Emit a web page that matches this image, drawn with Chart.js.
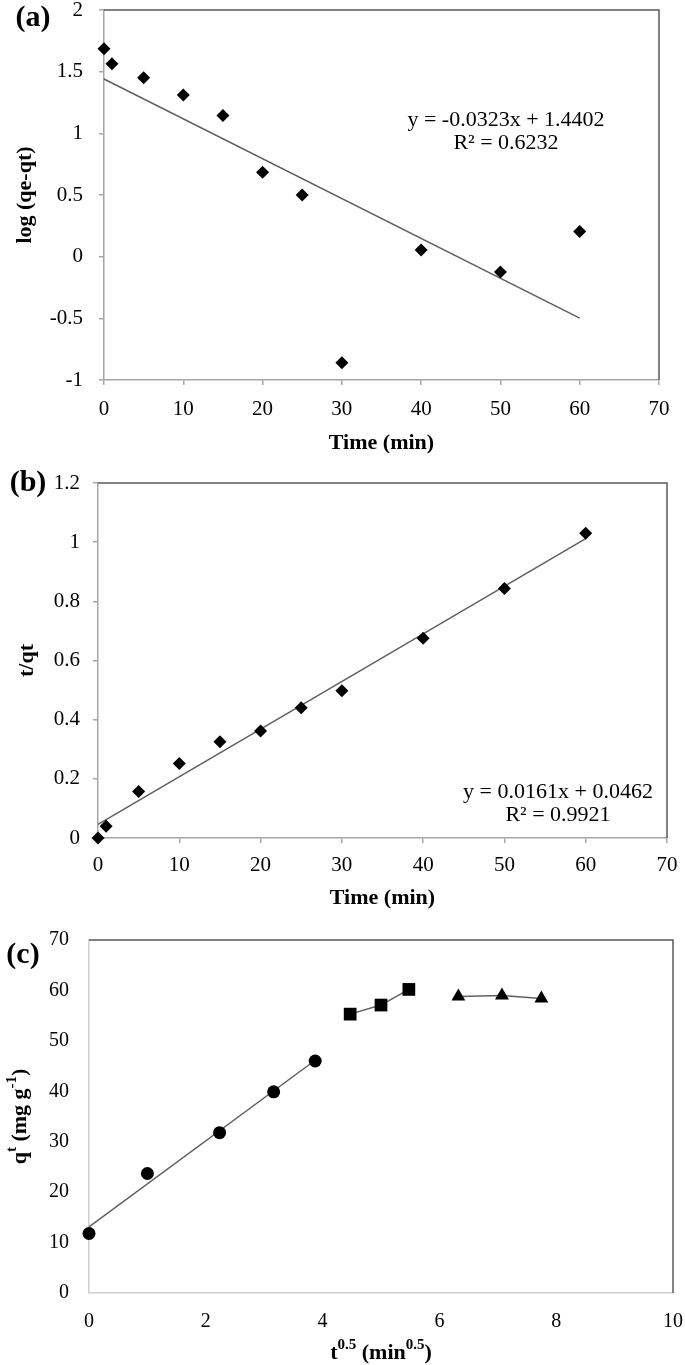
<!DOCTYPE html>
<html>
<head>
<meta charset="utf-8">
<script src="https://cdn.jsdelivr.net/npm/chart.js@4.4.0/dist/chart.umd.min.js"></script>
<style>
  html, body { margin: 0; padding: 0; background: #fff; }
  #wrap { position: relative; width: 685px; height: 1365px; }
  canvas { position: absolute; left: 0; }
</style>
</head>
<body>
<div id="wrap">
  <canvas id="chartA" width="685" height="460" style="top:0"></canvas>
  <canvas id="chartB" width="685" height="455" style="top:460px"></canvas>
  <canvas id="chartC" width="685" height="450" style="top:915px"></canvas>
</div>
<script>
// (a) pseudo-first-order, (b) pseudo-second-order, (c) intraparticle diffusion
const timeMin = [0, 1, 5, 10, 15, 20, 25, 30, 40, 50, 60];
const logQeQt = [1.685, 1.565, 1.45, 1.31, 1.145, 0.685, 0.5, -0.86, 0.055, -0.125, 0.205];
const tOverQt = [0, 0.04, 0.157, 0.252, 0.325, 0.362, 0.44, 0.498, 0.675, 0.843, 1.03];

const fitA = { slope: -0.0323, intercept: 1.4402, r2: '0.6232', from: 0, to: 60 };
const fitB = { slope: 0.0161, intercept: 0.0462, r2: '0.9921', from: 0, to: 60 };

const sqrtT1 = [0, 1, 2.236, 3.162, 3.873];
const qt1 = [11.8, 23.7, 31.8, 39.9, 46.0];
const sqrtT2 = [4.472, 5.0, 5.477];
const qt2 = [55.3, 57.1, 60.2];
const sqrtT3 = [6.325, 7.071, 7.746];
const qt3 = [58.8, 59.0, 58.4];

const xTicksTime = [0, 10, 20, 30, 40, 50, 60, 70];
const yTicksA = [-1, -0.5, 0, 0.5, 1, 1.5, 2];
const yTicksB = [0, 0.2, 0.4, 0.6, 0.8, 1, 1.2];
const xTicksC = [0, 2, 4, 6, 8, 10];
const yTicksC = [0, 10, 20, 30, 40, 50, 60, 70];

const SERIF = "'Liberation Serif', 'Times New Roman', serif";
const frameGray = '#595959';
const lineGray = '#5f5f5f';

function pts(xs, ys) {
  return xs.map((x, i) => ({ x: x, y: ys[i] }));
}

function fitLine(f) {
  return [
    { x: f.from, y: f.slope * f.from + f.intercept },
    { x: f.to, y: f.slope * f.to + f.intercept }
  ];
}

// plain least squares, like the spreadsheet trendline
function leastSquares(xs, ys) {
  const n = xs.length;
  const mx = xs.reduce((a, b) => a + b, 0) / n;
  const my = ys.reduce((a, b) => a + b, 0) / n;
  let sxy = 0, sxx = 0;
  xs.forEach((x, i) => { sxy += (x - mx) * (ys[i] - my); sxx += (x - mx) * (x - mx); });
  const slope = sxy / sxx;
  return { slope: slope, intercept: my - slope * mx, from: xs[0], to: xs[n - 1] };
}

function drawRich(ctx, parts, cx, cy, size, rotate) {
  ctx.save();
  ctx.translate(cx, cy);
  if (rotate) ctx.rotate(-Math.PI / 2);
  ctx.textBaseline = 'middle';
  ctx.textAlign = 'left';
  ctx.fillStyle = '#000';
  const fontOf = p => (p.bold === false ? '' : 'bold ') + Math.round(p.sup ? size * 0.68 : size) + 'px ' + SERIF;
  const widths = parts.map(p => { ctx.font = fontOf(p); return ctx.measureText(p.t).width; });
  let x = -widths.reduce((a, b) => a + b, 0) / 2;
  parts.forEach((p, i) => {
    ctx.font = fontOf(p);
    ctx.fillText(p.t, x, p.sup ? -size * 0.36 : 0);
    x += widths[i];
  });
  ctx.restore();
}

const overlay = {
  id: 'overlay',
  afterDraw(chart, args, o) {
    const ctx = chart.ctx;
    const a = chart.chartArea;
    // dark frame on top and right
    ctx.save();
    ctx.strokeStyle = frameGray;
    ctx.lineWidth = 1.5;
    ctx.beginPath();
    ctx.moveTo(a.left, a.top);
    ctx.lineTo(a.right, a.top);
    ctx.lineTo(a.right, a.bottom);
    ctx.stroke();
    ctx.restore();

    drawRich(ctx, [{ t: o.label }], o.labelPos[0], o.labelPos[1], 30, false);
    drawRich(ctx, o.xTitle, (a.left + a.right) / 2, o.xTitleY, 22, false);
    drawRich(ctx, o.yTitle, o.yTitleX, (a.top + a.bottom) / 2, 22, true);

    if (o.eq) {
      ctx.save();
      ctx.fillStyle = '#000';
      ctx.font = '22px ' + SERIF;
      ctx.textAlign = 'center';
      ctx.textBaseline = 'middle';
      o.eq.forEach((line, i) => ctx.fillText(line, o.eqPos[0], o.eqPos[1] + i * 23));
      ctx.restore();
    }
  }
};

const plainNumber = v => String(Math.round(v * 100) / 100);

function makeScales(xt, yt, box) {
  const tl = box.tickMarks ? 5 : 0;
  return {
    x: {
      type: 'linear',
      min: xt[0], max: xt[xt.length - 1],
      afterBuildTicks: s => { s.ticks = xt.map(v => ({ value: v })); },
      ticks: { color: '#000', font: { family: SERIF, size: box.font }, padding: box.xPad, maxRotation: 0, autoSkip: false, callback: plainNumber },
      grid: { display: true, drawOnChartArea: false, drawTicks: box.tickMarks, tickLength: tl, color: box.axisColor, lineWidth: 1.5 },
      border: { display: true, color: box.axisColor, width: 1.5 },
      afterFit: s => { s.height = box.h - box.bottom; s.paddingLeft = 0; s.paddingRight = 0; }
    },
    y: {
      type: 'linear',
      min: yt[0], max: yt[yt.length - 1],
      afterBuildTicks: s => { s.ticks = yt.map(v => ({ value: v })); },
      ticks: { color: '#000', font: { family: SERIF, size: box.font }, padding: box.yPad, autoSkip: false, callback: plainNumber },
      grid: { display: true, drawOnChartArea: false, drawTicks: box.tickMarks, tickLength: tl, color: box.axisColor, lineWidth: 1.5 },
      border: { display: true, color: box.axisColor, width: 1.5 },
      afterFit: s => { s.width = box.left; s.paddingTop = 0; s.paddingBottom = 0; }
    }
  };
}

function baseOptions(box, xt, yt, overlayOpts) {
  return {
    responsive: false,
    animation: false,
    clip: false,
    elements: { line: { tension: 0 } },
    layout: { padding: { top: box.top, right: box.w - box.right, left: 0, bottom: 0 } },
    scales: makeScales(xt, yt, box),
    plugins: {
      legend: { display: false },
      tooltip: { enabled: false },
      overlay: overlayOpts
    }
  };
}

const markerA = { pointStyle: 'rectRot', pointRadius: 6.5, backgroundColor: '#000', borderColor: '#000', borderWidth: 0, clip: false };

// (a)
const boxA = { w: 685, h: 460, left: 104, right: 659, top: 10, bottom: 380, tickMarks: true, axisColor: '#a6a6a6', font: 21, xPad: 12, yPad: 16 };
new Chart(document.getElementById('chartA'), {
  type: 'scatter',
  data: {
    datasets: [
      Object.assign({ data: pts(timeMin, logQeQt), order: 1 }, markerA),
      { type: 'line', data: fitLine(fitA), borderColor: lineGray, borderWidth: 1.5, pointRadius: 0, order: 2 }
    ]
  },
  options: baseOptions(boxA, xTicksTime, yTicksA, {
    label: '(a)', labelPos: [33, 18],
    xTitle: [{ t: 'Time (min)' }], xTitleY: 443,
    yTitle: [{ t: 'log (qe-qt)' }], yTitleX: 25,
    eq: ['y = ' + fitA.slope + 'x + ' + fitA.intercept, 'R\u00b2 = ' + fitA.r2], eqPos: [506, 120]
  }),
  plugins: [overlay]
});

// (b)
const boxB = { w: 685, h: 455, left: 98, right: 667, top: 23, bottom: 378, tickMarks: true, axisColor: '#a6a6a6', font: 21, xPad: 10, yPad: 13 };
new Chart(document.getElementById('chartB'), {
  type: 'scatter',
  data: {
    datasets: [
      Object.assign({ data: pts(timeMin, tOverQt), order: 1 }, markerA),
      { type: 'line', data: fitLine(fitB), borderColor: lineGray, borderWidth: 1.5, pointRadius: 0, order: 2 }
    ]
  },
  options: baseOptions(boxB, xTicksTime, yTicksB, {
    label: '(b)', labelPos: [28, 23],
    xTitle: [{ t: 'Time (min)' }], xTitleY: 438,
    yTitle: [{ t: 't/qt' }], yTitleX: 27,
    eq: ['y = ' + fitB.slope + 'x + ' + fitB.intercept, 'R\u00b2 = ' + fitB.r2], eqPos: [558, 332]
  }),
  plugins: [overlay]
});

// (c)
const boxC = { w: 685, h: 450, left: 89, right: 673, top: 25, bottom: 378, tickMarks: false, axisColor: '#cfcfcf', font: 20, xPad: 17, yPad: 20 };
const fitC = leastSquares(sqrtT1, qt1);
new Chart(document.getElementById('chartC'), {
  type: 'scatter',
  data: {
    datasets: [
      { data: pts(sqrtT1, qt1), pointStyle: 'circle', pointRadius: 6.5, backgroundColor: '#000', borderWidth: 0, order: 1, clip: false },
      { type: 'line', data: fitLine(fitC), borderColor: lineGray, borderWidth: 1.5, pointRadius: 0, order: 2 },
      { data: pts(sqrtT2, qt2), showLine: true, tension: 0, borderColor: lineGray, borderWidth: 1.5, pointStyle: 'rect', pointRadius: 9, backgroundColor: '#000', pointBorderWidth: 0, order: 1 },
      { data: pts(sqrtT3, qt3), showLine: true, tension: 0, borderColor: lineGray, borderWidth: 1.5, pointStyle: 'triangle', pointRadius: 8, backgroundColor: '#000', pointBorderWidth: 0, order: 1 }
    ]
  },
  options: baseOptions(boxC, xTicksC, yTicksC, {
    label: '(c)', labelPos: [23, 40],
    xTitle: [{ t: 't' }, { t: '0.5', sup: true }, { t: ' (min' }, { t: '0.5', sup: true }, { t: ')' }], xTitleY: 438,
    yTitle: [{ t: 'q' }, { t: 't', sup: true }, { t: ' (mg g' }, { t: '-1', sup: true }, { t: ')' }], yTitleX: 20
  }),
  plugins: [overlay]
});
</script>
</body>
</html>
